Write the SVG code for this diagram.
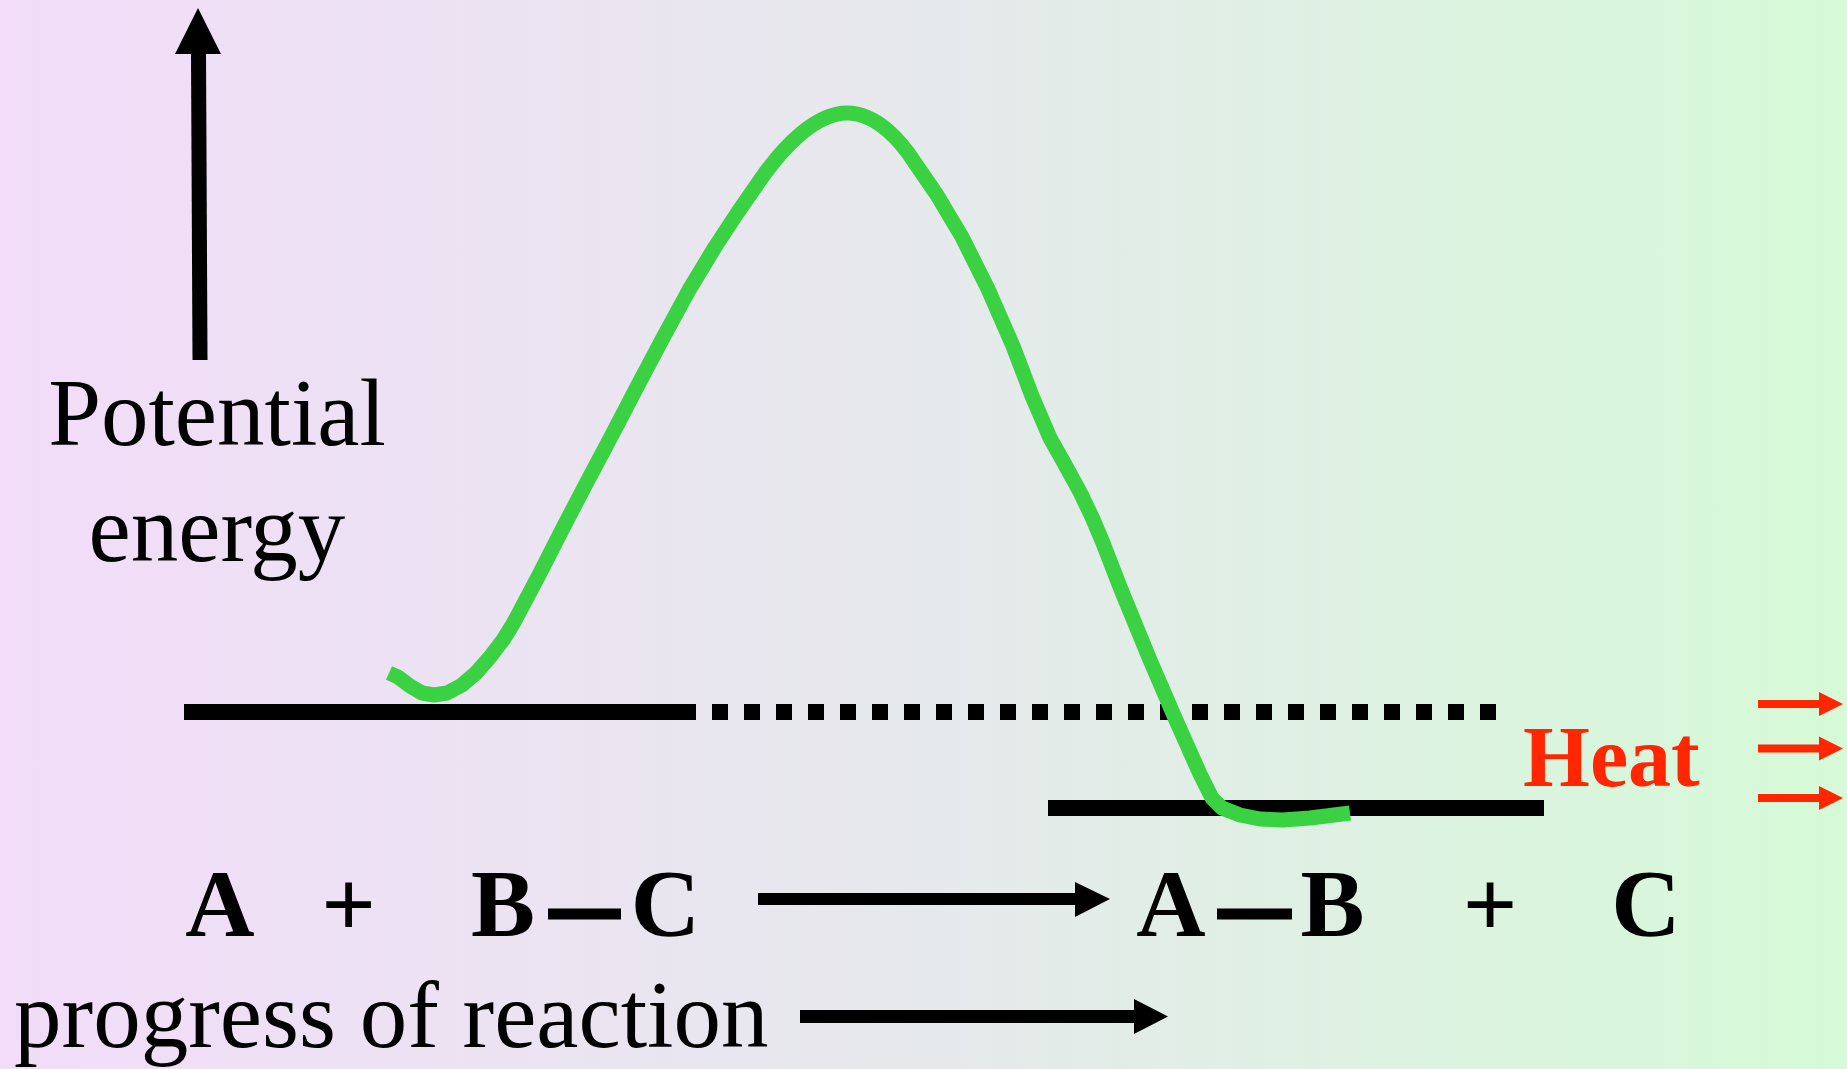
<svg xmlns="http://www.w3.org/2000/svg" width="1847" height="1069" viewBox="0 0 1847 1069">
<defs>
<linearGradient id="bg" x1="0" y1="0" x2="1" y2="0">
<stop offset="0" stop-color="#F2DCF9"/>
<stop offset="0.5" stop-color="#E6E9EC"/>
<stop offset="1" stop-color="#D5FAD7"/>
</linearGradient>
<style>
.serif{font-family:"Liberation Serif","Times New Roman",serif;fill:#000}
.lbl{font-size:95px}
.eq{font-size:96px;font-weight:bold;text-anchor:middle}
.heat{font-family:"Liberation Serif","Times New Roman",serif;font-size:86px;font-weight:bold;fill:#FF2600}
.lvl{stroke:#000;stroke-width:16;fill:none}
.bond{stroke:#000;stroke-width:11}
.curve{stroke:#3AD243;stroke-width:15;fill:none;stroke-linejoin:round;stroke-linecap:butt}
.blk{fill:#000}
.red{fill:#FF2600}
</style>
</defs>
<rect x="0" y="0" width="1847" height="1069" fill="url(#bg)"/>

<g id="levels">
<line class="lvl" x1="184" y1="712" x2="680" y2="712"/>
<line class="lvl" x1="680" y1="712" x2="1496" y2="712" stroke-dasharray="16 16"/>
<line class="lvl" x1="1048" y1="808" x2="1544" y2="808"/>
</g>

<g id="energy-curve">
<path class="curve" d="M389 673 L398 677 L410 686 L422 693 L434 695 L447 693 L462 685 L476 673 L490 657 L503 640 L513 624 L539 575 L564 526 L587 482 L613 433 L638 385 L664 336 L689 290 L715 247 L738 212 L763 176 C783 148 815 113 847 113 C878 113 903 144 915 163 L937 195 L962 237 L988 289 L1013 346 L1032 396 L1050 438 L1063 461 L1080 492 L1092 517 L1103 543 L1120 587 L1150 660 L1175 718 L1200 774 L1212 798 L1222 808 L1240 815 L1260 819 L1283 820 L1310 818 L1350 813"/>
</g>

<g id="connectors">
<g id="axis-energy">
<polygon class="blk" points="192.5,360 207.5,360 206,53 191,53"/>
<polygon class="blk" points="198,8 221,54 175,54"/>
</g>
<g id="reaction-arrow">
<rect class="blk" x="758" y="893" width="318" height="12"/>
<polygon class="blk" points="1075,882 1110,899 1075,917"/>
</g>
<g id="progress-arrow">
<rect class="blk" x="800" y="1010" width="336" height="13"/>
<polygon class="blk" points="1134,999 1168,1016.5 1134,1034"/>
</g>
<g id="heat-arrows">
<rect class="red" x="1758" y="700" width="62" height="8"/>
<polygon class="red" points="1819,692 1843,704 1819,716"/>
<rect class="red" x="1758" y="744.5" width="62" height="8"/>
<polygon class="red" points="1819,736.5 1843,748.5 1819,760.5"/>
<rect class="red" x="1758" y="794" width="62" height="8"/>
<polygon class="red" points="1819,786 1843,798 1819,810"/>
</g>
</g>

<g id="label-potential-energy">
<text class="serif lbl" x="217" y="445" text-anchor="middle">Potential</text>
<text class="serif lbl" x="217" y="561" text-anchor="middle">energy</text>
</g>

<g id="label-progress">
<text class="serif lbl" x="14" y="1047">progress of reaction</text>
</g>

<g id="reactants">
<text class="serif eq" x="220" y="936">A</text>
<text class="serif eq" x="348.5" y="936">+</text>
<text class="serif eq" x="503" y="936">B</text>
<line class="bond" x1="548" y1="914" x2="621" y2="914"/>
<text class="serif eq" x="665.5" y="936">C</text>
</g>

<g id="products">
<text class="serif eq" x="1171" y="936">A</text>
<line class="bond" x1="1217" y1="914" x2="1292" y2="914"/>
<text class="serif eq" x="1332.5" y="936">B</text>
<text class="serif eq" x="1490" y="936">+</text>
<text class="serif eq" x="1646" y="936">C</text>
</g>

<g id="heat">
<text class="heat" x="1523" y="786">Heat</text>
</g>
</svg>
